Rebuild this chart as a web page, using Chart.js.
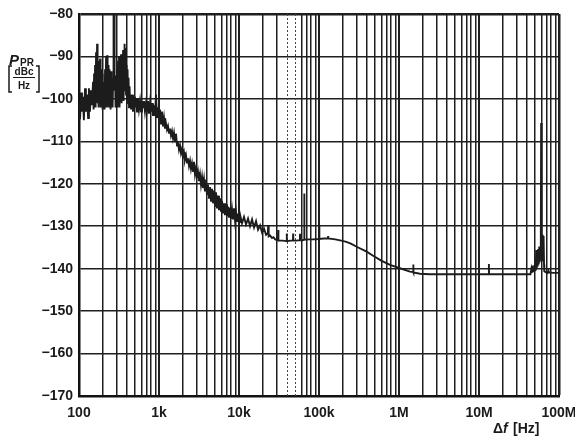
<!DOCTYPE html>
<html>
<head>
<meta charset="utf-8">
<script src="https://cdn.jsdelivr.net/npm/chart.js@4.4.1/dist/chart.umd.min.js"></script>
<style>
  body { margin: 0; background: #fff; }
  #wrap { width: 575px; height: 437px; }
</style>
</head>
<body>
<div id="wrap"><canvas id="grafico"></canvas></div>
<script>
// offset frequency [Hz] and phase noise [dBc/Hz]
const freqHz = [
  100, 103, 106, 109, 112, 115, 119, 122, 126, 130,
  133, 137, 141, 145, 150, 152.2, 154.4, 156.6, 158.9, 161.2,
  163.5, 165.9, 168.3, 170.7, 173.2, 175.7, 178.2, 180.8, 183.4, 186.1,
  188.8, 191.5, 194.3, 197.1, 200, 202.9, 205.8, 208.8, 211.8, 214.9,
  218, 221.1, 224.3, 227.6, 230.9, 234.2, 237.6, 241, 244.5, 248.1,
  251.7, 255.3, 259, 262.8, 266.6, 270.4, 274.3, 278.3, 282.3, 286.4,
  290.6, 294.8, 299.1, 303.4, 307.8, 312.2, 316.7, 321.3, 326, 330.7,
  335.5, 340.4, 345.3, 350.3, 355.4, 360.6, 365.8, 371.1, 376.5, 381.9,
  387.4, 393, 398.7, 404.5, 410.4, 416.3, 422.3, 428.5, 434.7, 441,
  447.4, 460, 473, 487, 501, 516, 531, 546, 562, 579,
  596, 613, 631, 649, 668, 688, 708, 729, 750, 772,
  794, 818, 841, 866, 891, 917, 944, 972, 1000, 1029,
  1059, 1090, 1122, 1155, 1188,
  1223, 1259, 1296, 1334, 1372, 1412, 1453, 1496, 1540, 1585, 1631, 1679, 1727, 1778, 1830, 1884, 1939, 1995,
  2054, 2113, 2175, 2239, 2304, 2371, 2441, 2512, 2586, 2661, 2738, 2818, 2901, 2985, 3073, 3162, 3255, 3350,
  3448, 3548, 3652, 3758, 3868, 3981, 4097, 4217, 4340, 4467, 4597, 4732, 4870, 5012, 5158, 5309, 5464, 5623,
  5788, 5957, 6131, 6310, 6494, 6683, 6879, 7079, 7286, 7499, 7718, 7943, 8175, 8414, 8660, 8913, 9173, 9441,
  9716, 10000, 10292, 10900, 11550, 12230, 12970, 13740, 14550, 15420, 16330, 17300, 18330, 19430, 20560, 21780,
  22900, 23200, 23500, 24450, 25900, 27000, 28300,
  30000, 30700, 30900, 31100, 35000, 39300, 39500, 39700, 44000, 47300, 47500, 47700, 52000, 57700, 57900, 58100,
  62000, 65300, 65500, 65700, 75000, 85000, 100600, 100900, 101200, 115000, 129500, 130000, 130500, 160000,
  190000, 220000, 250000, 300000, 394500, 480000, 600000, 772000, 1029000, 1372000, 1505000, 1510000, 1515000,
  1830000, 2440000, 4000000, 7000000, 10000000, 13250000, 13300000, 13350000, 20000000, 30000000, 44000000,
  45000000, 45600000, 46300000, 47000000, 47700000, 48400000, 49100000, 49800000, 50500000, 51200000,
  51900000, 52700000, 53400000, 54200000, 55000000, 55800000, 56600000, 57400000, 58200000, 59000000,
  59500000, 59800000, 60200000, 60700000, 61100000, 61700000, 62500000, 63300000, 64200000, 65000000, 65500000,
  68000000, 72000000, 74000000, 75000000, 85000000, 100000000
];
const pprDbc = [
  -101, -104.8, -98.5, -103, -99.5, -105, -97.5, -103, -99, -104.5,
  -97.5, -103, -98, -101.5, -96, -102.5, -94, -101.5, -92, -102,
  -89, -100, -87, -101, -91, -102, -92, -100.5, -90.5, -102,
  -93, -101, -94, -102.5, -96, -101.5, -98, -102.5, -93, -101,
  -90, -102, -89.7, -100.5, -92, -102, -93, -101, -94, -102.5,
  -93.5, -101, -95, -102, -96, -79.5, -79.5, -98, -94.5, -102,
  -95, -101, -93, -102, -91, -100.5, -90, -102, -91, -100,
  -89.5, -101, -90, -100, -88.5, -100.5, -89, -87, -98, -88,
  -99, -92, -100, -93, -101, -95, -102, -97, -101, -99,
  -102.5, -99, -103, -99.5, -102, -100, -103, -100, -102.5, -100.5,
  -103, -100.5, -102, -100.5, -103, -101, -102.5, -100.5, -103.5, -101,
  -103, -101, -104, -101.5, -104, -99, -104.5, -102, -105, -102.5,
  -106, -103, -106.5, -104.5, -107,
  -105.8, -107.2, -106.4, -108, -107, -108.6, -107.6, -109.3, -108, -110, -108.2, -111, -110.2, -112, -111, -112.8, -111.8, -113.6,
  -112.6, -114.3, -113.3, -115, -114, -115.8, -114.6, -116.5, -115.2, -117, -114.8, -117.8, -116.4, -118.6, -117.2, -119.4, -117.8, -120.2,
  -118.4, -121, -119, -121.8, -119.6, -122.6, -120.2, -123.3, -120.8, -124, -121.2, -124.6, -121.6, -125.2, -122, -125.8, -122.8, -126.2,
  -123.4, -126.6, -124, -127, -124.6, -127.4, -124.8, -127.6, -125.4, -128, -125.6, -128.2, -126, -128.4, -125.8, -128.6, -126.6, -128.8,
  -127, -129, -127.2, -129.3, -127.8, -129.6, -128.2, -130, -128.4, -130.3, -128.8, -130.8, -129.8, -131.5, -130.6, -132,
  -131.6, -129.8, -132.4, -132.2, -132.8, -132.6, -133.1,
  -133.2, -133.3, -130.9, -133.4, -133.4, -133.5, -131.7, -133.5, -133.4, -133.4, -131.7, -133.4, -133.4, -133.3, -131.8, -133.3,
  -133.3, -133.2, -122.3, -133.2, -133.1, -133.1, -133, -129.7, -133, -132.9, -132.9, -132.3, -132.9, -133.1,
  -133.4, -133.7, -134.1, -134.9, -136, -137, -138.1, -139.1, -139.9, -140.7, -140.8, -139, -140.9,
  -141.2, -141.3, -141.3, -141.3, -141.3, -141.3, -138.9, -141.3, -141.3, -141.3, -141.3,
  -140.2, -141, -139.3, -140.8, -139.5, -140.8, -139.2, -140.6, -138.5, -140.5,
  -135.6, -140, -135.8, -139.5, -135.4, -139, -134.8, -138.5, -134.8, -138,
  -134.5, -105.7, -107, -105.7, -133, -138, -132, -138, -132.3, -139, -140.6,
  -140.8, -141, -140.5, -140.9, -141, -141
];

const decades = [100, 1e3, 1e4, 1e5, 1e6, 1e7, 1e8];
const decadeLabels = ['100', '1k', '10k', '100k', '1M', '10M', '100M'];
const dottedFreqs = [40000, 50000];

const pontos = freqHz.map((f, i) => ({ x: f, y: pprDbc[i] }));

const extras = {
  id: 'extras',
  beforeDatasetsDraw(chart) {
    const { ctx, chartArea, scales } = chart;
    ctx.save();
    ctx.strokeStyle = '#444';
    ctx.lineWidth = 1;
    ctx.setLineDash([2, 2]);
    dottedFreqs.forEach(f => {
      const x = Math.round(scales.x.getPixelForValue(f)) + 0.5;
      ctx.beginPath();
      ctx.moveTo(x, chartArea.top);
      ctx.lineTo(x, chartArea.bottom);
      ctx.stroke();
    });
    ctx.restore();
  },
  afterDraw(chart) {
    const ctx = chart.ctx;
    ctx.save();
    ctx.fillStyle = '#1a1a1a';
    ctx.strokeStyle = '#1a1a1a';
    ctx.textBaseline = 'alphabetic';
    // y title: P_PR [dBc/Hz]
    ctx.font = 'italic bold 15px "Liberation Sans", Arial, sans-serif';
    ctx.textAlign = 'left';
    ctx.fillText('P', 9, 65);
    ctx.font = 'bold 10px "Liberation Sans", Arial, sans-serif';
    ctx.fillText('PR', 20, 66);
    ctx.textAlign = 'center';
    ctx.fillText('dBc', 24, 75);
    ctx.fillText('Hz', 24, 89);
    ctx.lineWidth = 1;
    ctx.beginPath();
    ctx.moveTo(13, 77.5); ctx.lineTo(35, 77.5);
    ctx.stroke();
    ctx.lineWidth = 1.5;
    ctx.beginPath();
    ctx.moveTo(12, 66); ctx.lineTo(9, 66); ctx.lineTo(9, 92); ctx.lineTo(12, 92);
    ctx.moveTo(36, 66); ctx.lineTo(39, 66); ctx.lineTo(39, 92); ctx.lineTo(36, 92);
    ctx.stroke();
    // x title: Δf [Hz]
    ctx.textAlign = 'left';
    ctx.font = 'bold 14px "Liberation Sans", Arial, sans-serif';
    ctx.fillText('\u0394', 493, 433);
    ctx.font = 'italic bold 14px "Liberation Sans", Arial, sans-serif';
    ctx.fillText('f', 503, 433);
    ctx.font = 'bold 14px "Liberation Sans", Arial, sans-serif';
    ctx.fillText('[Hz]', 513, 433);
    ctx.restore();
  }
};

new Chart(document.getElementById('grafico'), {
  type: 'line',
  data: {
    datasets: [{
      data: pontos,
      borderColor: '#1c1c1c',
      borderWidth: 1.9,
      pointRadius: 0,
      tension: 0,
      fill: false
    }]
  },
  options: {
    animation: false,
    responsive: true,
    maintainAspectRatio: false,
    layout: { padding: { left: 0, top: 14, right: 16, bottom: 0 } },
    plugins: { legend: { display: false }, tooltip: { enabled: false } },
    scales: {
      x: {
        type: 'logarithmic',
        min: 100,
        max: 1e8,
        afterBuildTicks: scale => {
          const ticks = [];
          for (let e = 2; e < 8; e++) {
            for (let m = 1; m < 10; m++) ticks.push({ value: m * Math.pow(10, e) });
          }
          ticks.push({ value: 1e8 });
          scale.ticks = ticks;
        },
        afterFit: scale => {
          scale.height = 41;
          scale.paddingLeft = 0;
          scale.paddingRight = 0;
        },
        ticks: {
          autoSkip: false,
          maxRotation: 0,
          padding: 9,
          color: '#1a1a1a',
          font: { family: '"Liberation Sans", Arial, sans-serif', size: 14, weight: 'bold' },
          callback: v => {
            const i = decades.indexOf(v);
            return i >= 0 ? decadeLabels[i] : '';
          }
        },
        grid: {
          drawTicks: false,
          color: ctx => ctx.tick && dottedFreqs.includes(ctx.tick.value) ? 'rgba(0,0,0,0)' : '#1f1f1f',
          lineWidth: ctx => {
            if (!ctx.tick) return 1.5;
            if (ctx.tick.value === 1e8) return 2.5;
            return decades.includes(ctx.tick.value) ? 2 : 1.5;
          }
        },
        border: { display: true, color: '#111', width: 2.5 }
      },
      y: {
        min: -170,
        max: -80,
        afterFit: scale => {
          scale.width = 79;
          scale.paddingTop = 0;
          scale.paddingBottom = 0;
        },
        ticks: {
          stepSize: 10,
          padding: 6,
          color: '#1a1a1a',
          font: { family: '"Liberation Sans", Arial, sans-serif', size: 14, weight: 'bold' },
          callback: v => String(v).replace('-', '\u2212')
        },
        grid: {
          drawTicks: false,
          color: '#1f1f1f',
          lineWidth: ctx => ctx.tick && ctx.tick.value === -80 ? 2.5 : 1.6
        },
        border: { display: true, color: '#111', width: 2.5 }
      }
    }
  },
  plugins: [extras]
});
</script>
</body>
</html>
